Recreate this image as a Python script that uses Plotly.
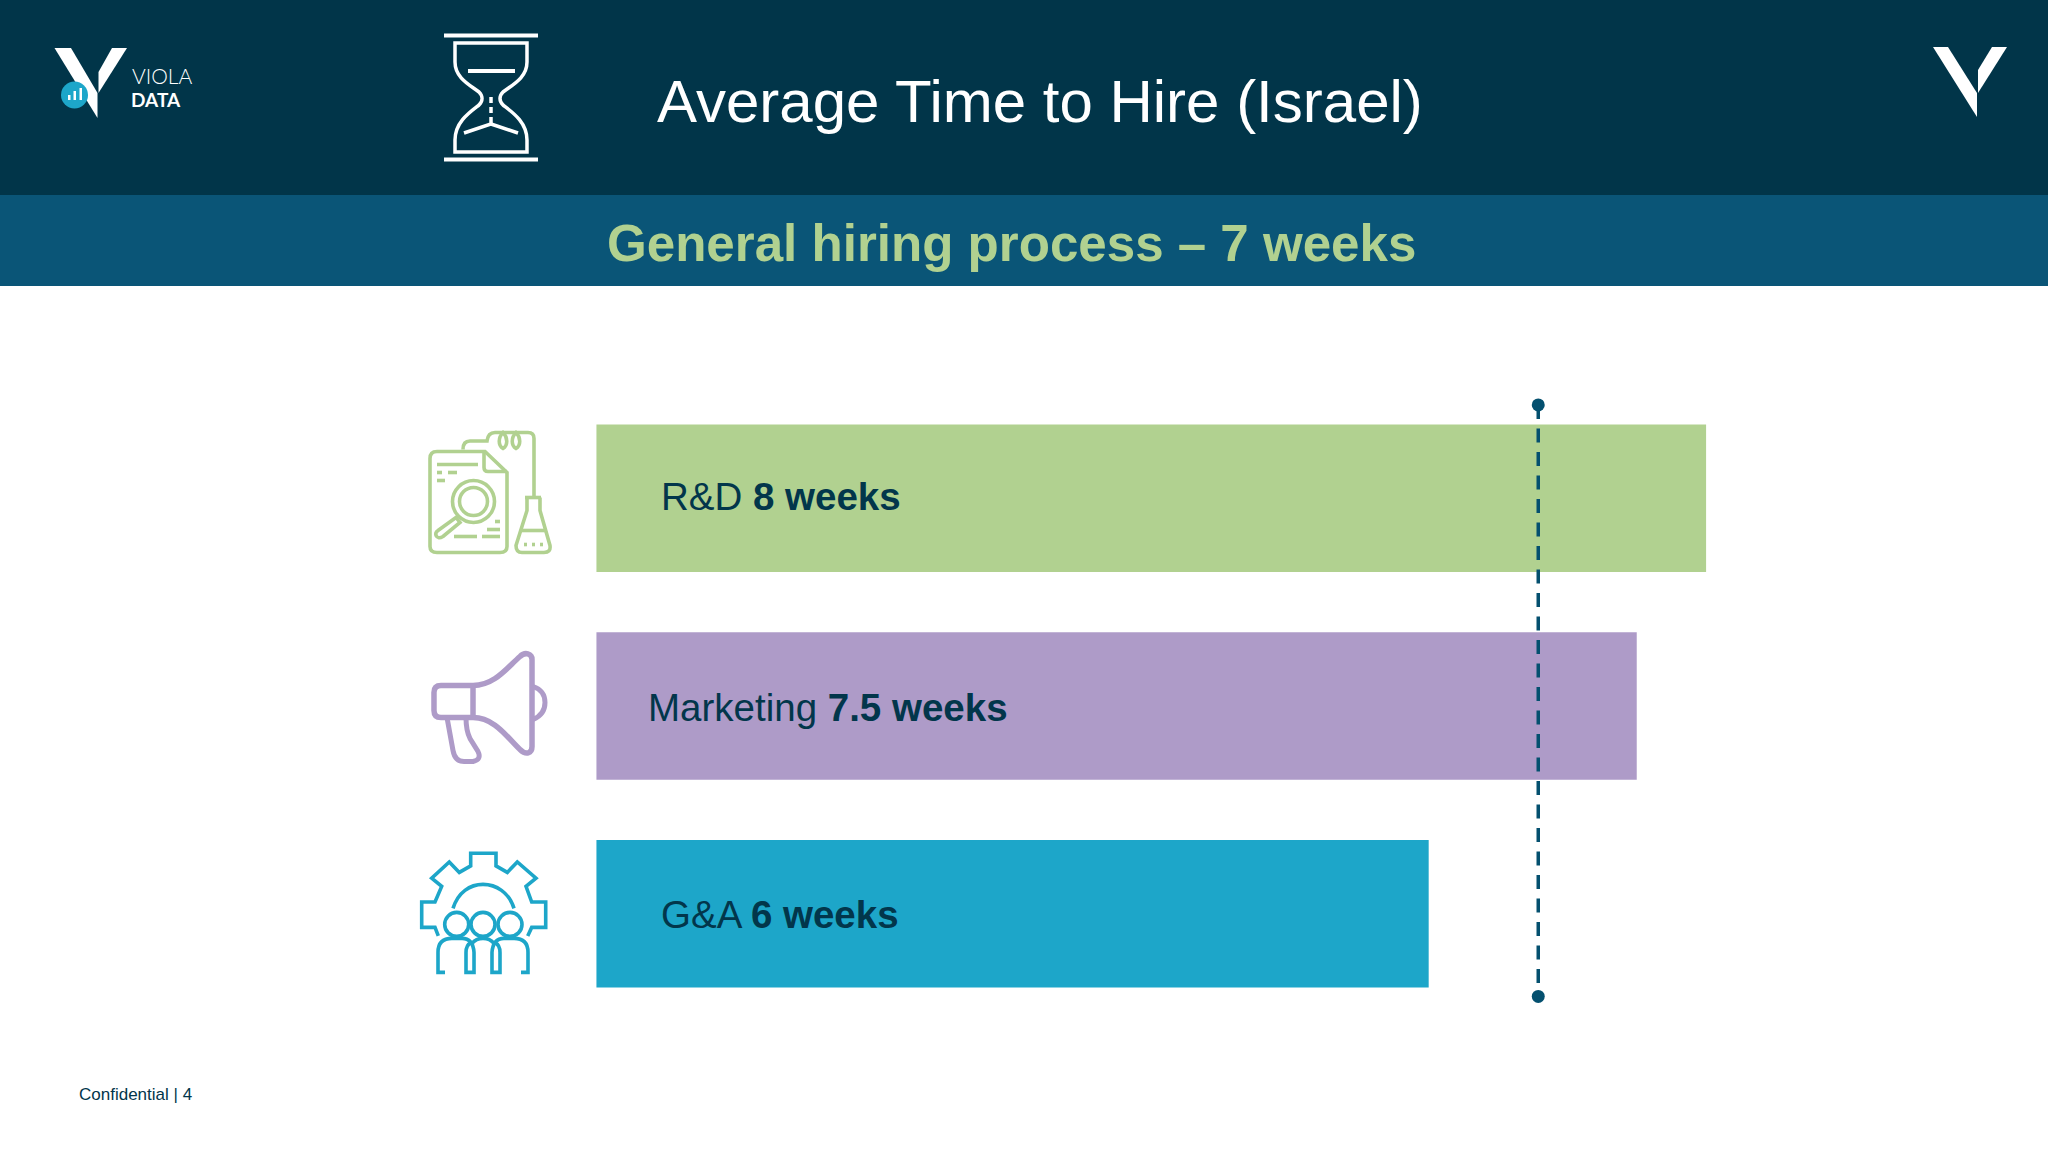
import re
import plotly.graph_objects as go

categories = ["R&D", "Marketing", "G&A"]
weeks = [8, 7.5, 6]
week_labels = ["8 weeks", "7.5 weeks", "6 weeks"]
bar_colors = ["#b1d190", "#ae9bc8", "#1da6c9"]
label_left_px = [659, 646, 659]
label_mid_px = [496.5, 707, 914.5]

general_process_line = 6.79  # where the dashed line sits on the bar scale

W, H = 2048, 1152
NAVY = "#013549"
BAND = "#0a5577"
LINE = "#04506f"
TEXT = "#02364b"

shift_y = 0  # icons get nudged as a group


def px_path(path):
    # paths below are written in screen pixels, shapes want paper coords
    out, is_x = [], True
    for tok in re.split(r"(-?\d+\.?\d*)", path):
        if re.fullmatch(r"-?\d+\.?\d*", tok):
            v = float(tok)
            out.append(f"{v / W:.5f}" if is_x else f"{1 - (v + shift_y) / H:.5f}")
            is_x = not is_x
        else:
            out.append(tok)
    return "".join(out)


def outline(path, color, width=3.6, fill=None):
    return dict(type="path", xref="paper", yref="paper", path=px_path(path),
                line=dict(color=color, width=width), fillcolor=fill, layer="above")


def solid(path, color):
    return dict(type="path", xref="paper", yref="paper", path=px_path(path),
                line=dict(width=0), fillcolor=color, layer="above")


def ring(cx, cy, r, color, width=3.6, fill=None):
    cy += shift_y
    return dict(type="circle", xref="paper", yref="paper",
                x0=(cx - r) / W, x1=(cx + r) / W, y0=1 - (cy + r) / H, y1=1 - (cy - r) / H,
                line=dict(color=color, width=width), fillcolor=fill, layer="above")


def band(y0, y1, color):
    return dict(type="rect", xref="paper", yref="paper", x0=0, x1=1, y0=1 - y1 / H, y1=1 - y0 / H,
                line=dict(width=0), fillcolor=color, layer="below")


shapes = [band(0, 195, NAVY), band(195, 286, BAND)]

# logos
white = "#ffffff"
shapes += [
    solid("M54.5 48 L71 48 L97.5 93 L97.5 118 Z", white),
    solid("M112 48 L127 48 L98.5 93 L98.5 72 Z", white),
    ring(74.5, 95, 13.5, "#1da6c9", 0, "#1da6c9"),
    solid("M68 95 L70.5 95 L70.5 100 L68 100 Z", white),
    solid("M73.5 91 L76 91 L76 100 L73.5 100 Z", white),
    solid("M79.5 88 L82 88 L82 100 L79.5 100 Z", white),
    solid("M1933 47 L1948 47 L1977 93 L1977 117 Z", white),
    solid("M1992 47 L2007 47 L1978 93 L1978 70 Z", white),
]

# hourglass
shapes += [
    outline("M444 35.5 L538 35.5", white, 4),
    outline("M444 159.5 L538 159.5", white, 4),
    outline("M455 43 L527 43 L527 62 C527 78 512 85 503 92 C499 96 499 101 503 105 "
            "C512 112 527 122 527 140 L527 152 L455 152 L455 140 C455 122 470 112 479 105 "
            "C483 101 483 96 479 92 C470 85 455 78 455 62 Z", white, 3.5),
    outline("M468 71 L515 71", white, 4),
    outline("M491 97 L491 103", white, 3.5),
    outline("M491 107 L491 113", white, 3.5),
    outline("M491 117 L491 124 L464 133", white, 3.5),
    outline("M491 124 L518 133", white, 3.5),
]

# R&D icon
g = bar_colors[0]
shift_y = -0.5
shapes += [
    outline("M437 452 L485 452 L507 473 L507 547 Q507 553 500 553 L437 553 Q430 553 430 547 "
            "L430 459 Q430 452 437 452 Z", g),
    outline("M484 452 L484 468 Q484 472 488 472 L507 472", g),
    outline("M437 465 L478 465", g),
    outline("M437 473 L442 473", g),
    outline("M448 473 L457 473", g),
    outline("M437 481 L445 481", g),
    ring(473.5, 502, 21, g),
    ring(473.5, 502, 14, g),
    outline("M456 518 L460 523 L443 537 Q438 540 436 536 Q435 533 438 531 Z", g),
    outline("M495 522 L500 522", g),
    outline("M487 530 L500 530", g),
    outline("M454 537 L477 537", g),
    outline("M482 537 L500 537", g),
    outline("M463 450 Q463 441.5 470 441.5 L487 441.5 Q488 433 495 433 L528 433 Q534 433 534 439 L534 498", g),
    outline("M503 433 C498 438 498 446 503 449 C508 446 508 438 503 433 Z", g),
    outline("M516 433 C511 438 511 446 516 449 C521 446 521 438 516 433 Z", g),
    outline("M525 498 L541 498", g),
    outline("M527 498 L527 511 L516 546 Q516 553 522 553 L544 553 Q551 553 550 546 L540 511 L540 498", g),
    outline("M522 531 L545 531", g),
    outline("M524 545 L527 545", g),
    outline("M532 545 L535 545", g),
    outline("M540 545 L543 545", g),
]

# megaphone
p = bar_colors[1]
shift_y = -1.5
shapes += [
    outline("M473 687 L441 687 Q434 687 434 694 L434 712 Q434 719 441 719 L473 719 "
            "C495 719 508 740 520 751 C526 757 532 755 532 748 L532 661 C532 655 525 653 520 658 "
            "C508 668 495 687 473 687 Z", p, 5.5),
    outline("M473 687 L473 719", p, 5.5),
    outline("M533 688 Q545 692 545 704 Q545 716 533 721", p, 5),
    outline("M447 719 L453 752 Q455 763 464 763 L473 763 Q482 761 478 753 L470 740 Q466 732 466 719", p, 5),
]

# gear and people
b = bar_colors[2]
shift_y = -2.6
shapes += [
    outline("M438.3 938.5 L435 930 L421.7 930 L421.7 904.6 L435 904.6 L441.7 889 L431.7 880.8 "
            "L449.3 864.6 L459.3 875 L470.7 868.5 L470.7 855.8 L496 855.8 L496 868.5 L507.3 875 "
            "L517.3 864.6 L536 880.8 L526 889 L531.7 904.6 L545.7 904.6 L545.7 930 L531.7 930 L527.7 938.5", b),
    outline("M453 911 C458 895 470 887 483 887 C496 887 509 895 514 911", b),
    ring(456.7, 927, 12, b),
    ring(483, 927, 12, b),
    ring(510, 927, 12, b),
    outline("M445 975 L438 975 L438 955 Q438 941 452 941 L462 941 Q473 941 474 955 L474 975 "
            "L466 975 L466 955 Q466 948 471 945", b),
    outline("M472 946 Q476 941 483 941 Q490 941 494 946", b),
    outline("M521 975 L528 975 L528 955 Q528 941 514 941 L504 941 Q493 941 492 955 L492 975 "
            "L500 975 L500 955 Q500 948 495 945", b),
]
shift_y = 0


def note(x, y, text, size, color, family="Liberation Sans", **font):
    return dict(xref="paper", yref="paper", x=x / W, y=1 - y / H, text=text, showarrow=False,
                xanchor="left", yanchor="middle", align="left",
                font=dict(family=family, size=size, color=color, **font))


annotations = [
    note(655, 102, "Average Time to Hire (Israel)", 60, white),
    note(605, 243, "<b>General hiring process – 7 weeks</b>", 51.1, bar_colors[0]),
    note(130, 76, "VIOLA", 21, white, family="Lato", weight=300),
    note(129, 99, "<b>DATA</b>", 19, white, family="Lato"),
    note(77, 1094, "Confidential | 4", 17, TEXT),
]
y_pos = list(range(len(categories)))
for i, cat in enumerate(categories):
    annotations.append(note(label_left_px[i], label_mid_px[i], f"{cat} <b>{week_labels[i]}</b>", 38.5, TEXT))

fig = go.Figure()
fig.add_trace(go.Bar(x=weeks, y=y_pos, orientation="h", width=0.71,
                     marker=dict(color=bar_colors, line=dict(width=0)), hoverinfo="skip"))
fig.add_trace(go.Scatter(x=[general_process_line, general_process_line], y=[-0.449, 2.398],
                         mode="lines+markers",
                         line=dict(color=LINE, width=3.5, dash="14px,9.5px"),
                         marker=dict(color=LINE, size=13), hoverinfo="skip"))

fig.update_layout(
    width=W, height=H, margin=dict(l=0, r=0, t=0, b=0),
    paper_bgcolor="white", plot_bgcolor="rgba(0,0,0,0)", showlegend=False,
    xaxis=dict(visible=False, range=[-4.300, 10.465]),
    yaxis=dict(visible=False, range=[3.147, -2.398]),
    shapes=shapes, annotations=annotations,
)

fig.write_html("out.html", config={"displayModeBar": False},
               post_script="document.body.style.margin='0';document.body.style.overflow='hidden';")
